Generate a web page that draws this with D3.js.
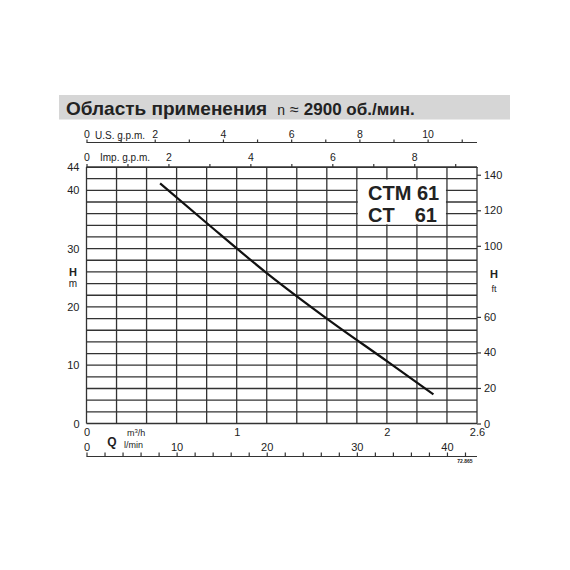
<!DOCTYPE html>
<html>
<head>
<meta charset="utf-8">
<script src="https://cdn.jsdelivr.net/npm/d3@7"></script>
<style>
  body { margin: 0; background: #fff; }
  text { font-family: "Liberation Sans", Arial, sans-serif; fill: #222; }
</style>
</head>
<body>
<div id="wrapper"></div>
<script>
// curve (Q in m3/h, H in m)
const flowQ = [0.49, 0.8, 1.2, 1.6, 2.0, 2.31]
const headH = [41.2, 34.4, 25.8, 18.0, 10.7, 5.0]

// tick labels
const qLabels = [0, 1, 2, 2.6]
const lminLabels = [0, 10, 20, 30, 40]
const usLabels = [0, 2, 4, 6, 8, 10]
const impLabels = [0, 2, 4, 6, 8]
const hLabels = [0, 10, 20, 30, 40, 44]
const ftLabels = [0, 20, 40, 60, 80, 100, 120, 140]

const qMax = 2.6
const hMax = 44
const usPerM3h = 1 / 0.22712
const impPerM3h = 1 / 0.272765
const lminPerM3h = 1000 / 60
const ftPerM = 1 / 0.3048

const dimensions = {
  width: 570,
  height: 570,
  left: 86.5,
  right: 477,
  top: 167,
  bottom: 423.5,
}

const svg = d3.select("#wrapper")
  .append("svg")
  .attr("width", dimensions.width)
  .attr("height", dimensions.height)

// SCALES
const xScale = d3.scaleLinear().domain([0, qMax]).range([dimensions.left, dimensions.right])
const xUS = d3.scaleLinear().domain([0, qMax * usPerM3h]).range(xScale.range())
const xImp = d3.scaleLinear().domain([0, qMax * impPerM3h]).range(xScale.range())
const xLmin = d3.scaleLinear().domain([0, qMax * lminPerM3h]).range(xScale.range())
const yScale = d3.scaleLinear().domain([0, hMax]).range([dimensions.bottom, dimensions.top])
const yFt = d3.scaleLinear().domain([0, hMax * ftPerM]).range(yScale.range())

// TITLE BAR
svg.append("rect")
  .attr("x", 59).attr("y", 95)
  .attr("width", 451).attr("height", 24.5)
  .attr("fill", "#d6d6d6")

const title = svg.append("text")
  .attr("x", 66).attr("y", 114.5)
  .style("font-weight", "bold")
  .style("font-size", "19px")
title.append("tspan").text("Область применения")
title.append("tspan").attr("dx", 10).style("font-size", "14px").style("font-weight", "normal").text("n")
title.append("tspan").attr("dx", 5).style("font-size", "16px").style("font-weight", "normal").text("≈")
title.append("tspan").attr("dx", 5).style("font-size", "17px").text("2900 об./мин.")

// GRID
const grid = svg.append("g")
  .attr("stroke", "#333")
  .attr("stroke-width", 1.3)

grid.selectAll(".hline")
  .data(d3.range(0, hMax + 1, 2))
  .join("line")
  .attr("x1", dimensions.left).attr("x2", dimensions.right)
  .attr("y1", d => yScale(d)).attr("y2", d => yScale(d))

grid.selectAll(".vline")
  .data(d3.range(0, 14).map(i => i * 0.2))
  .join("line")
  .attr("x1", d => xScale(d)).attr("x2", d => xScale(d))
  .attr("y1", dimensions.top).attr("y2", dimensions.bottom)

// model label box
svg.append("rect")
  .attr("x", xScale(1.8) + 1)
  .attr("y", yScale(42) + 1)
  .attr("width", xScale(2.4) - xScale(1.8) - 2)
  .attr("height", yScale(34) - yScale(42) - 2)
  .attr("fill", "#fff")

const modelText = svg.append("g")
  .style("font-weight", "bold")
  .style("font-size", "20px")
modelText.append("text").attr("x", 368).attr("y", 200).text("CTM 61")
modelText.append("text").attr("x", 368).attr("y", 222).text("CT")
modelText.append("text").attr("x", 437).attr("y", 222).attr("text-anchor", "end").text("61")

// CURVE
const curveData = d3.zip(flowQ, headH)
const lineGenerator = d3.line()
  .x(d => xScale(d[0]))
  .y(d => yScale(d[1]))
  .curve(d3.curveMonotoneX)

svg.append("path")
  .datum(curveData)
  .attr("d", lineGenerator)
  .attr("fill", "none")
  .attr("stroke", "#111")
  .attr("stroke-width", 2.2)

// AXES
const styleAxis = (g, size) => {
  g.selectAll("path, line").attr("stroke", "#333").attr("stroke-width", 1.2)
  g.selectAll("text")
    .style("font-family", "'Liberation Sans', Arial, sans-serif")
    .style("font-size", size)
    .attr("fill", "#222")
}

// US gpm (top)
const usAxis = svg.append("g")
  .attr("transform", "translate(0,142.5)")
  .call(d3.axisTop(xUS)
    .tickValues(d3.range(0, 12))
    .tickFormat(d => usLabels.includes(d) ? d : "")
    .tickSize(3).tickSizeOuter(0).tickPadding(2))
usAxis.select(".domain").attr("d", `M${dimensions.left},0H${dimensions.right}`)
styleAxis(usAxis, "10.5px")
svg.append("text").attr("x", 95).attr("y", 139).style("font-size", "10px").text("U.S. g.p.m.")

// Imp gpm (top of frame)
const impAxis = svg.append("g")
  .attr("transform", `translate(0,${dimensions.top})`)
  .call(d3.axisTop(xImp)
    .tickValues(d3.range(0, 10))
    .tickFormat(d => impLabels.includes(d) ? d : "")
    .tickSize(3).tickSizeOuter(0).tickPadding(3))
styleAxis(impAxis, "10.5px")
svg.append("text").attr("x", 100).attr("y", 161).style("font-size", "10px").text("Imp. g.p.m.")

// left H [m]
const hAxis = svg.append("g")
  .attr("transform", `translate(${dimensions.left},0)`)
  .call(d3.axisLeft(yScale)
    .tickValues(hLabels)
    .tickSize(0).tickPadding(7))
hAxis.select(".domain").remove()
styleAxis(hAxis, "11px")
svg.append("text").attr("x", 73).attr("y", 276).attr("text-anchor", "middle")
  .style("font-weight", "bold").style("font-size", "11px").text("H")
svg.append("text").attr("x", 73).attr("y", 287).attr("text-anchor", "middle")
  .style("font-size", "10px").text("m")

// right H [ft]
const ftAxis = svg.append("g")
  .attr("transform", `translate(${dimensions.right},0)`)
  .call(d3.axisRight(yFt)
    .tickValues(ftLabels.filter(d => d !== 80))
    .tickSize(4).tickSizeOuter(0).tickPadding(3))
ftAxis.select(".domain").remove()
styleAxis(ftAxis, "11px")
svg.append("text").attr("x", 494).attr("y", 278).attr("text-anchor", "middle")
  .style("font-weight", "bold").style("font-size", "11px").text("H")
svg.append("text").attr("x", 494).attr("y", 292).attr("text-anchor", "middle")
  .style("font-size", "9px").text("ft")

// bottom Q [m3/h]
const qAxis = svg.append("g")
  .attr("transform", `translate(0,${dimensions.bottom})`)
  .call(d3.axisBottom(xScale)
    .tickValues(qLabels)
    .tickFormat(d => d)
    .tickSize(0).tickPadding(5))
qAxis.select(".domain").remove()
styleAxis(qAxis, "11px")

// l/min
const lAxis = svg.append("g")
  .attr("transform", "translate(0,456.5)")
  .call(d3.axisTop(xLmin)
    .tickValues(d3.range(0, 44, 2))
    .tickFormat(d => lminLabels.includes(d) ? d : "")
    .tickSize(4).tickSizeOuter(0).tickPadding(2))
lAxis.select(".domain").attr("d", `M${dimensions.left},0H${dimensions.right}`)
styleAxis(lAxis, "11px")

svg.append("text").attr("x", 112).attr("y", 446).attr("text-anchor", "middle")
  .style("font-weight", "bold").style("font-size", "12px").text("Q")
svg.append("text").attr("x", 127).attr("y", 436).style("font-size", "9px")
  .html("m<tspan dy='-3' font-size='6px'>3</tspan><tspan dy='3'>/h</tspan>")
svg.append("text").attr("x", 124).attr("y", 448).style("font-size", "9px").text("l/min")

svg.append("text").attr("x", 465).attr("y", 463).attr("text-anchor", "middle")
  .style("font-size", "5px").style("font-weight", "bold").text("72.865")
</script>
</body>
</html>
